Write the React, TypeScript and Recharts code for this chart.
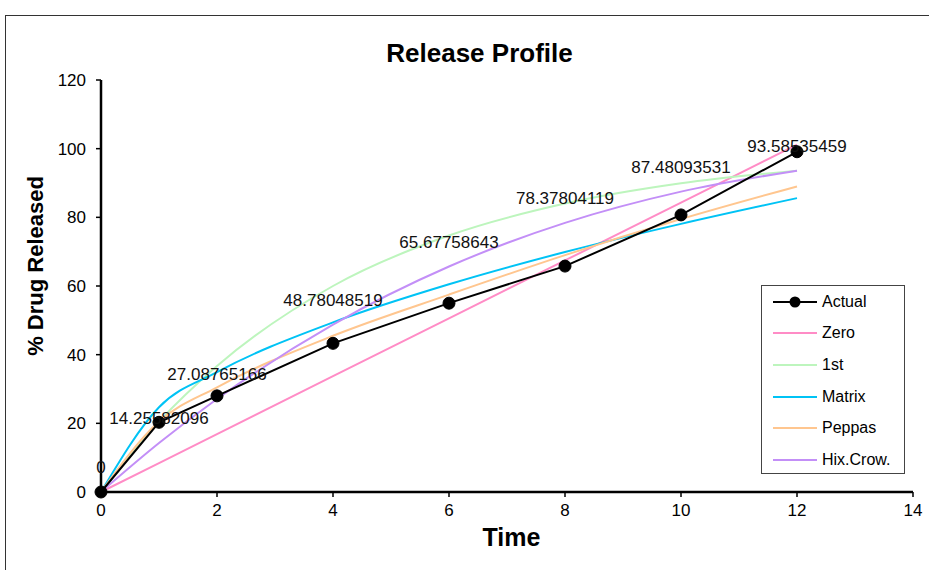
import React from "react";
import { LineChart, Line, XAxis, YAxis, LabelList } from "recharts";

const times = [0, 1, 2, 4, 6, 8, 10, 12];
const actual = [0, 20.3, 28.0, 43.3, 55.0, 65.8, 80.7, 99.1];
const zeroOrder = [0, 8.43, 16.86, 33.72, 50.58, 67.44, 84.3, 101.16];
const firstOrder = [0, 20.5, 36.7, 60.0, 74.7, 84.0, 89.9, 93.6];
const matrix = [0, 24.7, 34.9, 49.4, 60.5, 69.9, 78.1, 85.6];
const peppas = [0, 20.5, 30.5, 45.5, 57.5, 69.0, 79.5, 89.0];
const hixCrowell = [
  0, 14.25582096, 27.08765166, 48.78048519, 65.67758643, 78.37804119,
  87.48093531, 93.58535459,
];

const xTicks = [0, 2, 4, 6, 8, 10, 12, 14];
const yTicks = [0, 20, 40, 60, 80, 100, 120];

const series = [
  { key: "actual", name: "Actual", color: "#000000", marker: true },
  { key: "zero", name: "Zero", color: "#FF8CC6", marker: false },
  { key: "first", name: "1st", color: "#BDF5BD", marker: false },
  { key: "matrix", name: "Matrix", color: "#00C3F5", marker: false },
  { key: "peppas", name: "Peppas", color: "#FFC68F", marker: false },
  { key: "hix", name: "Hix.Crow.", color: "#C38FF7", marker: false },
];

const data = times.map((t, i) => ({
  time: t,
  actual: actual[i],
  zero: zeroOrder[i],
  first: firstOrder[i],
  matrix: matrix[i],
  peppas: peppas[i],
  hix: hixCrowell[i],
}));

const FONT = "'Liberation Sans', Arial, sans-serif";

// legend drawn as an overlay so it doesn't eat into the plot area
const LegendBox = () => (
  <div
    style={{
      position: "absolute",
      left: 761,
      top: 285,
      border: "1px solid #444",
      background: "#fff",
      width: 144,
      height: 189,
      boxSizing: "border-box",
      paddingTop: 0,
      fontFamily: FONT,
      fontSize: 16,
      color: "#000",
    }}
  >
    {series.map((s) => (
      <div
        key={s.key}
        style={{ display: "flex", alignItems: "center", height: 31.6 }}
      >
        <svg width={60} height={14} style={{ flex: "none" }}>
          <line x1={11} y1={7} x2={55} y2={7} stroke={s.color} strokeWidth={2} />
          {s.marker && <circle cx={33} cy={7} r={5.5} fill="#000" />}
        </svg>
        <span>{s.name}</span>
      </div>
    ))}
  </div>
);

export default function App() {
  return (
    <div
      style={{
        position: "absolute",
        left: 0,
        top: 0,
        width: 929,
        height: 570,
        overflow: "hidden",
        background: "#fff",
      }}
    >
      <div
        style={{
          position: "absolute",
          left: 5,
          top: 15,
          width: 1000,
          height: 1000,
          border: "1px solid #333",
        }}
      />
      <LineChart
        width={929}
        height={570}
        data={data}
        margin={{ top: 80, right: 16, bottom: 48, left: 0 }}
        style={{ position: "absolute", left: 0, top: 0 }}
      >
        <XAxis
          dataKey="time"
          type="number"
          domain={[0, 14]}
          ticks={xTicks}
          height={30}
          axisLine={{ stroke: "#000", strokeWidth: 2.5 }}
          tickLine={{ stroke: "#000", strokeWidth: 1.5 }}
          tickSize={5}
          tickMargin={7}
          tick={{ fontSize: 17, fill: "#000", fontFamily: FONT }}
        />
        <YAxis
          domain={[0, 120]}
          ticks={yTicks}
          width={101}
          axisLine={{ stroke: "#000", strokeWidth: 2.5 }}
          tickLine={{ stroke: "#000", strokeWidth: 1.5 }}
          tickSize={5}
          tickMargin={10}
          tick={{ fontSize: 17, fill: "#000", fontFamily: FONT }}
        />
        <Line type="linear" dataKey="zero" stroke="#FF8CC6" strokeWidth={2} dot={false} isAnimationActive={false} />
        <Line type="monotone" dataKey="first" stroke="#BDF5BD" strokeWidth={2} dot={false} isAnimationActive={false} />
        <Line type="monotone" dataKey="matrix" stroke="#00C3F5" strokeWidth={2} dot={false} isAnimationActive={false} />
        <Line type="monotone" dataKey="peppas" stroke="#FFC68F" strokeWidth={2} dot={false} isAnimationActive={false} />
        <Line type="monotone" dataKey="hix" stroke="#C38FF7" strokeWidth={2} dot={false} isAnimationActive={false} />
        <Line
          type="linear"
          dataKey="actual"
          stroke="#000"
          strokeWidth={2}
          dot={{ r: 6, fill: "#000", stroke: "#000", strokeWidth: 1 }}
          isAnimationActive={false}
        />
        <Line
          type="monotone"
          dataKey="hix"
          stroke="none"
          dot={false}
          legendType="none"
          isAnimationActive={false}
        >
          <LabelList
            dataKey="hix"
            position="top"
            offset={19}
            style={{ fontSize: 17, fill: "#111", fontFamily: FONT }}
          />
        </Line>
      </LineChart>
      <LegendBox />
      <svg
        width={929}
        height={570}
        style={{ position: "absolute", left: 0, top: 0, pointerEvents: "none" }}
      >
        <text x={479.5} y={62} textAnchor="middle" fontSize={26} fontWeight="bold" fontFamily={FONT}>
          Release Profile
        </text>
        <text
          x={43}
          y={266}
          textAnchor="middle"
          fontSize={22}
          fontWeight="bold"
          fontFamily={FONT}
          transform="rotate(-90 43 266)"
        >
          % Drug Released
        </text>
        <text x={511.5} y={546} textAnchor="middle" fontSize={25} fontWeight="bold" fontFamily={FONT}>
          Time
        </text>
      </svg>
    </div>
  );
}
